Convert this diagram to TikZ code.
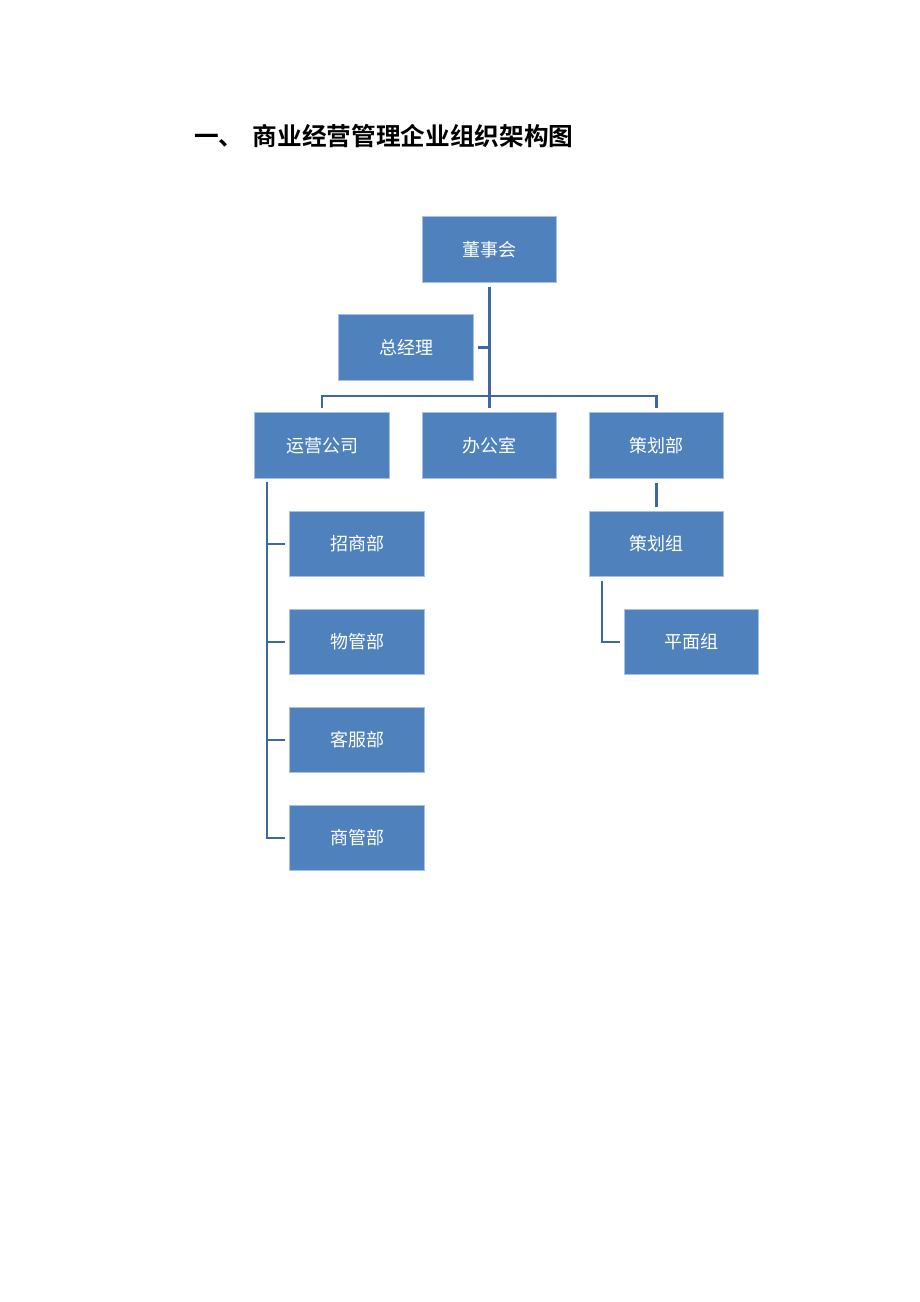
\documentclass[tikz,border=0pt]{standalone}
\usepackage{fontspec}
\setmainfont{Noto Sans CJK SC}
\newfontfamily\cjkbold{Noto Sans CJK SC Bold}
\usepackage{tikz}

\definecolor{boxblue}{HTML}{4F81BD}
\definecolor{boxedge}{HTML}{A9C1E0}
\definecolor{linkblue}{HTML}{3F68A3}

\tikzset{
	unit/.style={draw=boxedge, line width=0.6pt, fill=boxblue, text=white,
		minimum width=101pt, minimum height=49pt, inner sep=0pt,
		font=\fontsize{13.5}{14}\selectfont},
	link/.style={draw=linkblue, line width=2.2pt, shorten <=3pt, shorten >=3pt}
}

\begin{document}
\begin{tikzpicture}[x=0.75pt, y=-0.75pt]
	\useasboundingbox (0, 0) rectangle (920, 1302);

	% title
	\node[anchor=west, inner sep=0pt, font=\cjkbold\fontsize{18.5}{20}\selectfont] (title) at (194, 136) {一、\hspace{7pt}商业经营管理企业组织架构图};

	% top levels
	\node[unit] (dsh) at (489.5, 249.5) {董事会};
	\node[unit] (zjl) at (406, 347.5) {总经理};
	\node[unit] (yy) at (322, 445.5) {运营公司};
	\node[unit] (bgs) at (489.5, 445.5) {办公室};
	\node[unit] (ch) at (656.5, 445.5) {策划部};

	% under yy
	\node[unit] (zs) at (357, 544) {招商部};
	\node[unit] (wg) at (357, 642) {物管部};
	\node[unit] (kf) at (357, 740) {客服部};
	\node[unit] (sg) at (357, 838) {商管部};

	% under ch
	\node[unit] (chz) at (656.5, 544) {策划组};
	\node[unit] (pm) at (691.5, 642) {平面组};

	% links
	\coordinate (bus) at (489.5, 396);
	\draw[link] (dsh.south) -- (bgs.north);
	\draw[link, shorten >=0pt] (zjl.east) -- (zjl.east -| dsh.south);
	\draw[link] (yy.north) |- (bus) -| (ch.north);

	\coordinate (ytrunk) at (267, 478);
	\draw[link] (ytrunk) |- (sg.west);
	\foreach \n in {zs, wg, kf}
		\draw[link, shorten <=0pt] (\n.west -| ytrunk) -- (\n.west);

	\draw[link] (ch.south) -- (chz.north);
	\coordinate (ctrunk) at (602, 577);
	\draw[link] (ctrunk) |- (pm.west);
\end{tikzpicture}
\end{document}
